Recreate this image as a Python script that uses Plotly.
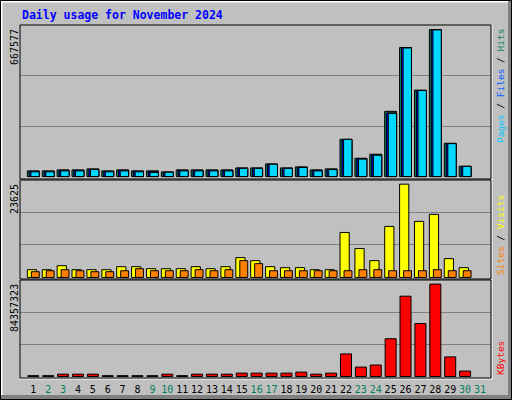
import plotly.graph_objects as go

# daily figures, November 2024; day 31 has no data
days = list(range(1, 32))
hits = [25000, 25000, 29400, 29400, 33800, 25000, 29400, 25000, 25000, 20600,
        29400, 29400, 29400, 29400, 38200, 38200, 55800, 38200, 42600, 29400,
        33800, 164300, 80800, 98400, 287200, 568300, 380800, 647400, 146700, 45700, None]
files = [23000, 23000, 27500, 27500, 32000, 23000, 27500, 23000, 23000, 19000,
         27500, 27500, 27500, 27500, 36500, 36500, 54000, 36500, 41000, 27500,
         32000, 161000, 79000, 95000, 280000, 566000, 379000, 646000, 145000, 44000, None]
pages = [21000, 21000, 25000, 25000, 31000, 21000, 25000, 21000, 18000, 19000,
         25000, 25000, 25000, 25000, 36000, 36000, 54000, 36000, 40000, 25000,
         31000, 164000, 77000, 94000, 278000, 566000, 379000, 646000, 145000, 45000, None]
visits = [1880, 1880, 2850, 1880, 1880, 1880, 2610, 2610, 2120, 2120,
          2120, 2610, 2120, 2610, 4810, 4070, 2610, 2370, 2370, 1880,
          1880, 10900, 7000, 4070, 12370, 22620, 13590, 15300, 4560, 2370, None]
sites = [1390, 1630, 1880, 1630, 1390, 1390, 1630, 2120, 1630, 1630,
         1630, 1880, 1630, 1880, 4070, 3340, 1630, 1630, 1630, 1630,
         1630, 1630, 1880, 1880, 1630, 1630, 1630, 1880, 1630, 1630, None]
kbytes = [700000, 700000, 2000000, 2000000, 2000000, 700000, 700000, 700000, 700000, 2000000,
          700000, 2000000, 2000000, 2000000, 2900000, 2900000, 2900000, 2900000, 3800000, 2000000,
          2900000, 19700000, 8200000, 10000000, 33000000, 70200000, 46300000, 80800000, 17100000, 4700000, None]
weekend_days = [2, 3, 9, 10, 16, 17, 23, 24, 30, 31]

max_hits = 667577
max_visits = 23625
max_kbytes = 84357323

# pixel helpers (plot area is 20..491 x 25..378)
L, R, T, B = 20, 491, 25, 378
def px(x):
    return (x - L) / (R - L)
def py(y):
    return (B - y) / (B - T)

FONT = "DejaVu Sans Mono"
GRID = "#808080"

fig = go.Figure()

def bars(y, color, offset, width, axis):
    fig.add_trace(go.Bar(x=days, y=y, offset=offset, width=width, yaxis=axis,
                         marker=dict(color=color, line=dict(color="black", width=1)),
                         showlegend=False, hoverinfo="skip"))

bars(hits, "#00805C", -0.40, 0.80, "y")
bars(files, "#0000FF", -0.27, 0.67, "y")
bars(pages, "#00D8FF", -0.16, 0.56, "y")
bars(visits, "#FFFF00", -0.40, 0.62, "y2")
bars(sites, "#FF8000", -0.13, 0.53, "y2")
bars(kbytes, "#FF0000", -0.37, 0.74, "y3")

def yax(top, dom):
    return dict(domain=dom, range=[-top * 0.016, top], tickvals=[top / 3, 2 * top / 3],
                showticklabels=False, showgrid=True, gridcolor=GRID, gridwidth=1,
                zeroline=False, fixedrange=True, automargin=False)

ticktext = []
for d in days:
    c = "#00805C" if d in weekend_days else "#000000"
    ticktext.append(f'<span style="color:{c}">{d}</span>')

fig.update_layout(
    width=512, height=400,
    margin=dict(l=L, r=512 - R, t=T, b=400 - B),
    paper_bgcolor="#C0C0C0", plot_bgcolor="#C0C0C0",
    barmode="overlay",
    xaxis=dict(range=[0.107, 31.74], tickvals=days, ticktext=ticktext, showgrid=False,
               zeroline=False, ticks="outside", ticklen=2, tickcolor="rgba(0,0,0,0)",
               anchor="y3", tickangle=0, automargin=False,
               tickfont=dict(family=FONT, size=10, color="black"), fixedrange=True),
    yaxis=yax(max_hits, [py(179), 1.0]),
    yaxis2=yax(max_visits, [py(279), py(180)]),
    yaxis3=yax(max_kbytes, [0.0, py(280)]),
    font=dict(family=FONT),
)

shapes = []
# outer bevel frame
shapes.append(dict(type="rect", xref="paper", yref="paper", x0=px(508), x1=px(512), y0=py(400), y1=py(0),
                   line=dict(width=0), fillcolor="#808080", layer="below"))
shapes.append(dict(type="rect", xref="paper", yref="paper", x0=px(0), x1=px(512), y0=py(400), y1=py(395),
                   line=dict(width=0), fillcolor="#808080", layer="below"))
shapes.append(dict(type="line", xref="paper", yref="paper", x0=px(1.5), x1=px(1.5), y0=py(395), y1=py(1),
                   line=dict(color="white", width=2), layer="below"))
shapes.append(dict(type="line", xref="paper", yref="paper", x0=px(1), x1=px(508), y0=py(1.5), y1=py(1.5),
                   line=dict(color="white", width=2), layer="below"))
shapes.append(dict(type="rect", xref="paper", yref="paper", x0=px(0.5), x1=px(511.5), y0=py(399.5), y1=py(0.5),
                   line=dict(color="black", width=1)))
# white edge of the plot area
shapes.append(dict(type="line", xref="paper", yref="paper", x0=px(492), x1=px(492), y0=py(379), y1=py(25),
                   line=dict(color="white", width=1)))
shapes.append(dict(type="line", xref="paper", yref="paper", x0=px(20), x1=px(492), y0=py(379), y1=py(379),
                   line=dict(color="white", width=1)))
# panel frames
for top, bot in [(25, 179), (180, 279), (280, 378)]:
    shapes.append(dict(type="rect", xref="paper", yref="paper", x0=0, x1=1, y0=py(bot), y1=py(top),
                       line=dict(color="black", width=1)))
fig.update_layout(shapes=shapes)

sep = '<span style="color:black"> / </span>'
notes = [
    dict(x=px(20), y=py(15), text="<b>Daily usage for November 2024</b>", xanchor="left", yanchor="middle",
         font=dict(size=11.5, color="#0000FF")),
    dict(x=px(14), y=py(27), text=f"{max_hits}", textangle=-90, xanchor="center", yanchor="top",
         font=dict(size=10, color="black")),
    dict(x=px(14), y=py(182), text=f"{max_visits}", textangle=-90, xanchor="center", yanchor="top",
         font=dict(size=10, color="black")),
    dict(x=px(14), y=py(282), text=f"{max_kbytes}", textangle=-90, xanchor="center", yanchor="top",
         font=dict(size=10, color="black")),
    dict(x=px(500), y=py(27), textangle=-90, xanchor="center", yanchor="top",
         text='<span style="color:#00C8FF">Pages</span>' + sep + '<span style="color:#0060FF">Files</span>'
              + sep + '<span style="color:#00805C">Hits</span>',
         font=dict(size=9.5)),
    dict(x=px(500), y=py(277), textangle=-90, xanchor="center", yanchor="bottom",
         text='<span style="color:#FF8000">Sites</span>' + sep + '<span style="color:#FFFF00">Visits</span>',
         font=dict(size=9.5)),
    dict(x=px(500), y=py(377), textangle=-90, xanchor="center", yanchor="bottom",
         text='<span style="color:#FF0000">KBytes</span>', font=dict(size=9.5)),
]
for n in notes:
    n.update(xref="paper", yref="paper", showarrow=False)
fig.update_layout(annotations=notes)

# page body has a default margin; drop it so the chart sits at 0,0
fig.write_html("out.html", config={"displayModeBar": False},
               post_script="document.body.style.margin='0';document.body.style.overflow='hidden';")
